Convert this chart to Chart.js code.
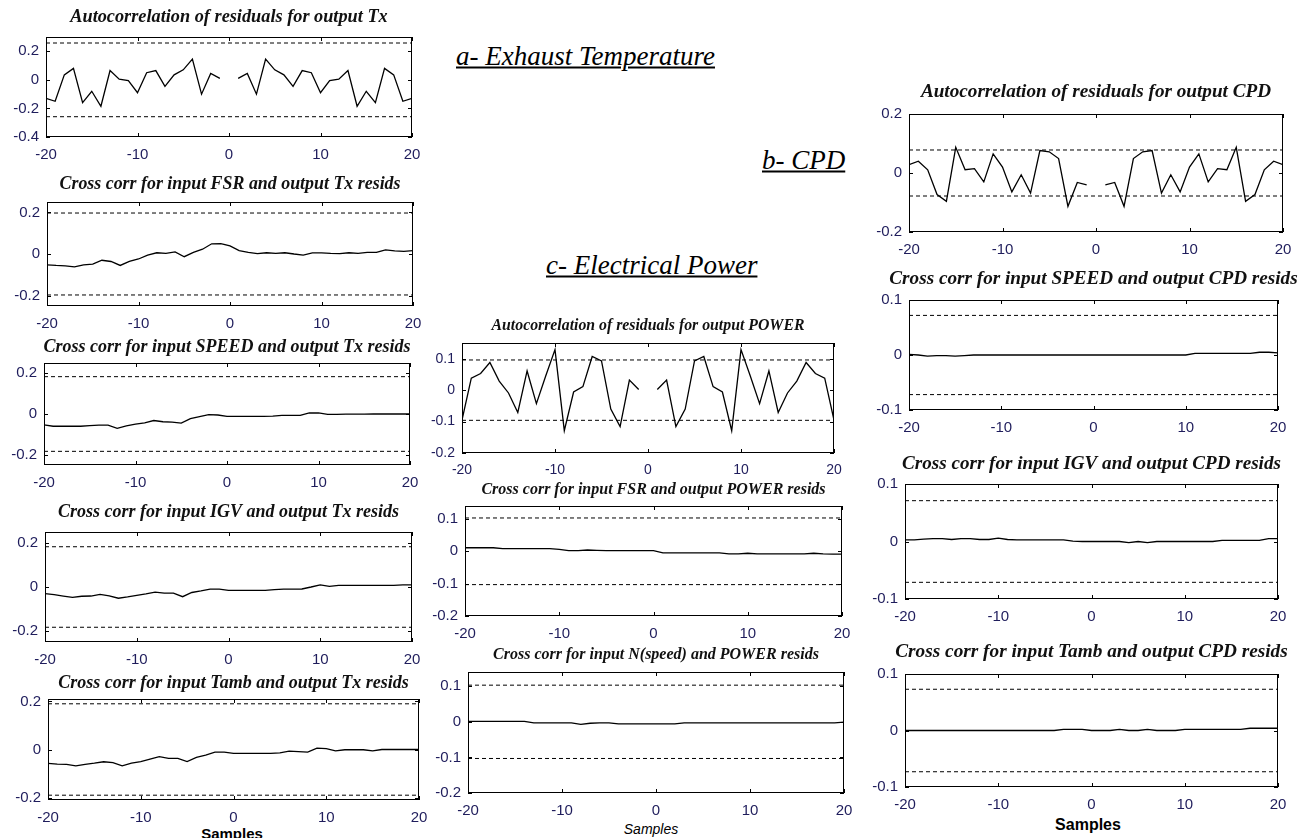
<!DOCTYPE html>
<html>
<head>
<meta charset="utf-8">
<script src="https://cdn.jsdelivr.net/npm/chart.js"></script>
<style>
  body { margin: 0; background: #fff; width: 1307px; height: 838px; overflow: hidden; position: relative; }
  .plot { position: absolute; }
  .note { position: absolute; font-family: "Liberation Serif", "Times New Roman", serif; font-style: italic;
          font-size: 27px; text-decoration: underline; white-space: nowrap; color: #000; transform: translateY(-50%); }
  .samples { position: absolute; font-family: "Liberation Sans", Arial, sans-serif; white-space: nowrap;
             color: #000; transform: translate(-50%, -50%); }
</style>
</head>
<body>
<div class="note" style="left:456px; top:56px;">a- Exhaust Temperature</div>
<div class="note" style="left:762px; top:160px;">b- CPD</div>
<div class="note" style="left:546px; top:265px;">c- Electrical Power</div>
<div class="samples" style="left:232px; top:833px; font-weight:bold; font-size:15px;">Samples</div>
<div class="samples" style="left:651px; top:829px; font-style:italic; font-size:14px;">Samples</div>
<div class="samples" style="left:1088px; top:825px; font-weight:bold; font-size:16px;">Samples</div>

<script>
// lags shown on every plot
var lags = [-20,-19,-18,-17,-16,-15,-14,-13,-12,-11,-10,-9,-8,-7,-6,-5,-4,-3,-2,-1,0,
            1,2,3,4,5,6,7,8,9,10,11,12,13,14,15,16,17,18,19,20];
var xTicks = [-20, -10, 0, 10, 20];

// exhaust temperature (Tx)
var txAcf = [-0.13,-0.15,0.035,0.08,-0.16,-0.08,-0.185,0.065,0.005,-0.005,-0.09,0.05,0.065,-0.045,0.035,0.07,0.145,-0.10,0.045,0.01,
             null,
             0.01,0.045,-0.10,0.145,0.07,0.035,-0.045,0.065,0.05,-0.09,-0.005,0.005,0.065,-0.185,-0.08,-0.16,0.08,0.035,-0.15,-0.13];
var txFsr = [-0.052,-0.055,-0.057,-0.062,-0.052,-0.049,-0.03,-0.036,-0.055,-0.036,-0.024,-0.005,0.006,0.003,0.01,-0.013,0.008,0.023,0.049,0.05,0.039,
             0.016,0.008,0.002,0.006,0.003,0.006,0.0,-0.005,0.005,0.005,0.003,0.002,0.006,0.003,0.008,0.008,0.02,0.015,0.013,0.016];
var txSpeed = [-0.053,-0.06,-0.06,-0.06,-0.06,-0.057,-0.055,-0.055,-0.07,-0.058,-0.05,-0.043,-0.032,-0.038,-0.04,-0.045,-0.023,-0.013,-0.003,-0.005,-0.012,
               -0.012,-0.012,-0.012,-0.012,-0.01,-0.007,-0.007,-0.007,0.005,0.005,-0.002,-0.002,-0.001,-0.001,-0.001,0,0,0,0,0];
var txIgv = [-0.03,-0.035,-0.041,-0.047,-0.042,-0.041,-0.034,-0.04,-0.051,-0.045,-0.038,-0.031,-0.023,-0.028,-0.028,-0.044,-0.025,-0.018,-0.01,-0.01,-0.015,
             -0.015,-0.015,-0.015,-0.015,-0.012,-0.01,-0.01,-0.009,0,0.01,0.003,0.007,0.007,0.007,0.007,0.007,0.007,0.007,0.01,0.01];
var txTamb = [-0.058,-0.061,-0.062,-0.068,-0.062,-0.057,-0.051,-0.055,-0.068,-0.057,-0.05,-0.04,-0.03,-0.037,-0.037,-0.05,-0.033,-0.023,-0.011,-0.011,-0.016,
              -0.016,-0.016,-0.016,-0.016,-0.014,-0.007,-0.009,-0.011,0.006,0.004,-0.006,-0.001,-0.001,-0.001,-0.006,0,0,0,0,0];

// electrical power
var pwAcf = [-0.095,0.038,0.053,0.088,0.029,-0.009,-0.071,0.061,-0.043,0.045,0.129,-0.129,-0.006,0.011,0.107,0.093,-0.06,-0.116,0.032,0.002,
             null,
             0.002,0.032,-0.116,-0.06,0.093,0.107,0.011,-0.006,-0.129,0.129,0.045,-0.043,0.061,-0.071,-0.009,0.029,0.088,0.053,0.038,-0.095];
var pwFsr = [0.011,0.011,0.011,0.011,0.008,0.008,0.008,0.008,0.008,0.008,0.006,0.002,0.002,0.004,0.003,0.002,0.002,0.002,0.002,0.002,0.002,
             -0.005,-0.005,-0.005,-0.005,-0.005,-0.005,-0.005,-0.008,-0.008,-0.006,-0.008,-0.008,-0.008,-0.008,-0.008,-0.008,-0.006,-0.008,-0.009,-0.009];
var pwSpeed = [0.001,0.001,0.001,0.001,0.001,0.001,0.001,-0.003,-0.003,-0.003,-0.003,-0.003,-0.007,-0.004,-0.003,-0.003,-0.006,-0.006,-0.006,-0.006,-0.006,
               -0.006,-0.006,-0.003,-0.003,-0.003,-0.003,-0.003,-0.003,-0.003,-0.003,-0.003,-0.003,-0.003,-0.003,-0.003,-0.003,-0.003,-0.003,-0.003,-0.001];

// compressor discharge pressure (CPD)
var cpdAcf = [0.028,0.04,0.011,-0.073,-0.096,0.087,0.011,0.015,-0.03,0.065,0.02,-0.064,-0.006,-0.068,0.076,0.072,0.049,-0.113,-0.032,-0.04,
              null,
              -0.04,-0.032,-0.113,0.049,0.072,0.076,-0.068,-0.006,-0.064,0.02,0.065,-0.03,0.015,0.011,0.087,-0.096,-0.073,0.011,0.04,0.028];
var cpdSpeed = [0.001,0,-0.002,-0.001,-0.001,-0.002,-0.001,0,0,0,0,0,0,0,0,0,0,0,0,0,0,
                0,0,0,0,0,0,0,0,0,0,0.003,0.003,0.003,0.003,0.003,0.003,0.003,0.005,0.005,0.004];
var cpdIgv = [0.003,0.003,0.004,0.005,0.005,0.0035,0.005,0.005,0.0035,0.0035,0.006,0.0035,0.003,0.003,0.003,0.003,0.003,0.003,0.0005,0,0,
              0,0,0,-0.002,0,-0.002,0,0,0,0,0,0,0,0.002,0.002,0.002,0.002,0.002,0.005,0.005];
var cpdTamb = [0,0,0,0,0,0,0,0,0,0,0,0,0,0,0,0,0,0.002,0.002,0.002,0,
               0,0,0.002,0,0,0.002,0,0,0,0.002,0.002,0.002,0.002,0.002,0.002,0.002,0.004,0.004,0.004,0.004];

// confidence bounds (dashed lines)
var bounds = { txAcf: 0.258, txFsr: 0.197, txSpeed: 0.183, txIgv: 0.183, txTamb: 0.19,
               pwAcf: 0.096, pwFsr: 0.103, pwSpeed: 0.103,
               cpdAcf: 0.078, cpdSpeed: 0.072, cpdIgv: 0.071, cpdTamb: 0.073 };

// y tick labels
var yTicksTxAcf = [-0.4, -0.2, 0, 0.2];
var yTicksTx = [-0.2, 0, 0.2];
var yTicksPw = [-0.2, -0.1, 0, 0.1];
var yTicksCpdAcf = [-0.2, 0, 0.2];
var yTicksCpd = [-0.1, 0, 0.1];

// plot layout: plot box (l,t,r,b), y range, title gap / size, tick font size
var plots = [
  { title: 'Autocorrelation of residuals for output Tx', data: txAcf, bound: bounds.txAcf, ticks: yTicksTxAcf, ymin: -0.4, ymax: 0.3, l: 46, t: 37, r: 412, b: 137, gap: 20, ts: 18.3, fs: 15 },
  { title: 'Cross corr for input FSR and output Tx resids', data: txFsr, bound: bounds.txFsr, ticks: yTicksTx, ymin: -0.25, ymax: 0.25, l: 47, t: 202, r: 413, b: 306, gap: 17, ts: 17.9, fs: 15 },
  { title: 'Cross corr for input SPEED and output Tx resids', data: txSpeed, bound: bounds.txSpeed, ticks: yTicksTx, ymin: -0.25, ymax: 0.25, l: 44, t: 363, r: 410, b: 465, gap: 16, ts: 18, fs: 15 },
  { title: 'Cross corr for input IGV and output Tx resids', data: txIgv, bound: bounds.txIgv, ticks: yTicksTx, ymin: -0.25, ymax: 0.25, l: 45, t: 532, r: 412, b: 642, gap: 20, ts: 18, fs: 15 },
  { title: 'Cross corr for input Tamb and output Tx resids', data: txTamb, bound: bounds.txTamb, ticks: yTicksTx, ymin: -0.21, ymax: 0.21, l: 48, t: 699, r: 419, b: 800, gap: 16, ts: 18, fs: 15 },
  { title: 'Autocorrelation of residuals for output POWER', data: pwAcf, bound: bounds.pwAcf, ticks: yTicksPw, ymin: -0.2, ymax: 0.15, l: 462, t: 343, r: 834, b: 453, gap: 17, ts: 15.8, fs: 14 },
  { title: 'Cross corr for input FSR and output POWER resids', data: pwFsr, bound: bounds.pwFsr, ticks: yTicksPw, ymin: -0.2, ymax: 0.14, l: 465, t: 506, r: 842, b: 616, gap: 16, ts: 16, fs: 15 },
  { title: 'Cross corr for input N(speed) and POWER resids', data: pwSpeed, bound: bounds.pwSpeed, ticks: yTicksPw, ymin: -0.2, ymax: 0.14, l: 468, t: 672, r: 844, b: 793, gap: 17, ts: 16, fs: 15 },
  { title: 'Autocorrelation of residuals for output CPD', data: cpdAcf, bound: bounds.cpdAcf, ticks: yTicksCpdAcf, ymin: -0.2, ymax: 0.2, l: 909, t: 114, r: 1283, b: 232, gap: 21, ts: 19.2, fs: 15 },
  { title: 'Cross corr for input SPEED and output CPD resids', data: cpdSpeed, bound: bounds.cpdSpeed, ticks: yTicksCpd, ymin: -0.1, ymax: 0.1, l: 909, t: 300, r: 1278, b: 410, gap: 20, ts: 19.2, fs: 15 },
  { title: 'Cross corr for input IGV and output CPD resids', data: cpdIgv, bound: bounds.cpdIgv, ticks: yTicksCpd, ymin: -0.1, ymax: 0.1, l: 905, t: 484, r: 1278, b: 599, gap: 19, ts: 19.1, fs: 15 },
  { title: 'Cross corr for input Tamb and output CPD resids', data: cpdTamb, bound: bounds.cpdTamb, ticks: yTicksCpd, ymin: -0.1, ymax: 0.1, l: 905, t: 674, r: 1278, b: 787, gap: 21, ts: 19.3, fs: 15 }
];

var Y_W = 42, X_H = 30;
var tickColor = '#1f1d5c';

// box around the axes with small inward ticks, matlab style
var boxPlugin = {
  id: 'box',
  afterDraw: function(chart) {
    var a = chart.chartArea, c = chart.ctx, sx = chart.scales.x, sy = chart.scales.y;
    c.save();
    c.strokeStyle = '#000';
    c.lineWidth = 1;
    c.strokeRect(Math.round(a.left) + 0.5, Math.round(a.top) + 0.5, Math.round(a.right - a.left) - 1, Math.round(a.bottom - a.top) - 1);
    c.beginPath();
    xTicks.forEach(function(v) {
      var px = Math.round(sx.getPixelForValue(v)) + 0.5;
      c.moveTo(px, a.bottom); c.lineTo(px, a.bottom - 4);
      c.moveTo(px, a.top); c.lineTo(px, a.top + 4);
    });
    sy.ticks.forEach(function(t) {
      var py = Math.round(sy.getPixelForValue(t.value)) + 0.5;
      c.moveTo(a.left, py); c.lineTo(a.left + 4, py);
      c.moveTo(a.right, py); c.lineTo(a.right - 4, py);
    });
    c.stroke();
    c.restore();
  }
};

plots.forEach(function(p) {
  var lh = Math.round(p.ts * 1.2);
  var padB = Math.round(p.gap - lh / 2);
  var titleH = lh + padB;
  var div = document.createElement('div');
  div.className = 'plot';
  var w = (p.r - p.l) + 2 * Y_W;
  var h = titleH + (p.b - p.t) + X_H;
  div.style.left = (p.l - Y_W) + 'px';
  div.style.top = (p.t - titleH) + 'px';
  var cv = document.createElement('canvas');
  cv.width = w; cv.height = h;
  cv.style.width = w + 'px'; cv.style.height = h + 'px';
  div.appendChild(cv);
  document.body.appendChild(div);

  var pts = lags.map(function(x, i) { return { x: x, y: p.data[i] }; });
  var up = [{ x: lags[0], y: p.bound }, { x: lags[lags.length - 1], y: p.bound }];
  var lo = [{ x: lags[0], y: -p.bound }, { x: lags[lags.length - 1], y: -p.bound }];
  var tickFont = { family: '"Liberation Sans", Arial, sans-serif', size: p.fs };

  new Chart(cv.getContext('2d'), {
    type: 'line',
    data: {
      datasets: [
        { data: pts, borderColor: '#000', borderWidth: 1.3, pointRadius: 0, tension: 0, spanGaps: false },
        { data: up, borderColor: '#000', borderWidth: 1, borderDash: [4, 3], pointRadius: 0 },
        { data: lo, borderColor: '#000', borderWidth: 1, borderDash: [4, 3], pointRadius: 0 }
      ]
    },
    options: {
      responsive: false,
      animation: false,
      devicePixelRatio: 1,
      layout: { padding: 0 },
      plugins: {
        legend: { display: false },
        tooltip: { enabled: false },
        title: {
          display: true,
          text: p.title,
          color: '#111',
          font: { family: '"Liberation Serif", "Times New Roman", serif', size: p.ts, style: 'italic', weight: 'bold', lineHeight: lh / p.ts },
          padding: { top: 0, bottom: padB }
        }
      },
      scales: {
        x: {
          type: 'linear', min: -20, max: 20,
          grid: { display: false, drawTicks: false },
          border: { display: false },
          afterBuildTicks: function(s) { s.ticks = xTicks.map(function(v) { return { value: v }; }); },
          afterFit: function(s) { s.height = X_H; },
          ticks: { color: tickColor, padding: 9, maxRotation: 0, autoSkip: false, font: tickFont,
                   callback: function(v) { return String(v); } }
        },
        y: {
          type: 'linear', min: p.ymin, max: p.ymax,
          grid: { display: false, drawTicks: false },
          border: { display: false },
          afterBuildTicks: function(s) { s.ticks = p.ticks.map(function(v) { return { value: v }; }); },
          afterFit: function(s) { s.width = Y_W; },
          ticks: { color: tickColor, padding: 7, autoSkip: false, font: tickFont,
                   callback: function(v) { return String(v); } }
        },
        // empty right-hand axis so the title centres over the plot box
        yRight: {
          type: 'linear', position: 'right', min: p.ymin, max: p.ymax,
          grid: { display: false, drawTicks: false },
          border: { display: false },
          ticks: { display: false },
          afterFit: function(s) { s.width = Y_W; }
        }
      }
    },
    plugins: [boxPlugin]
  });
});
</script>
</body>
</html>
